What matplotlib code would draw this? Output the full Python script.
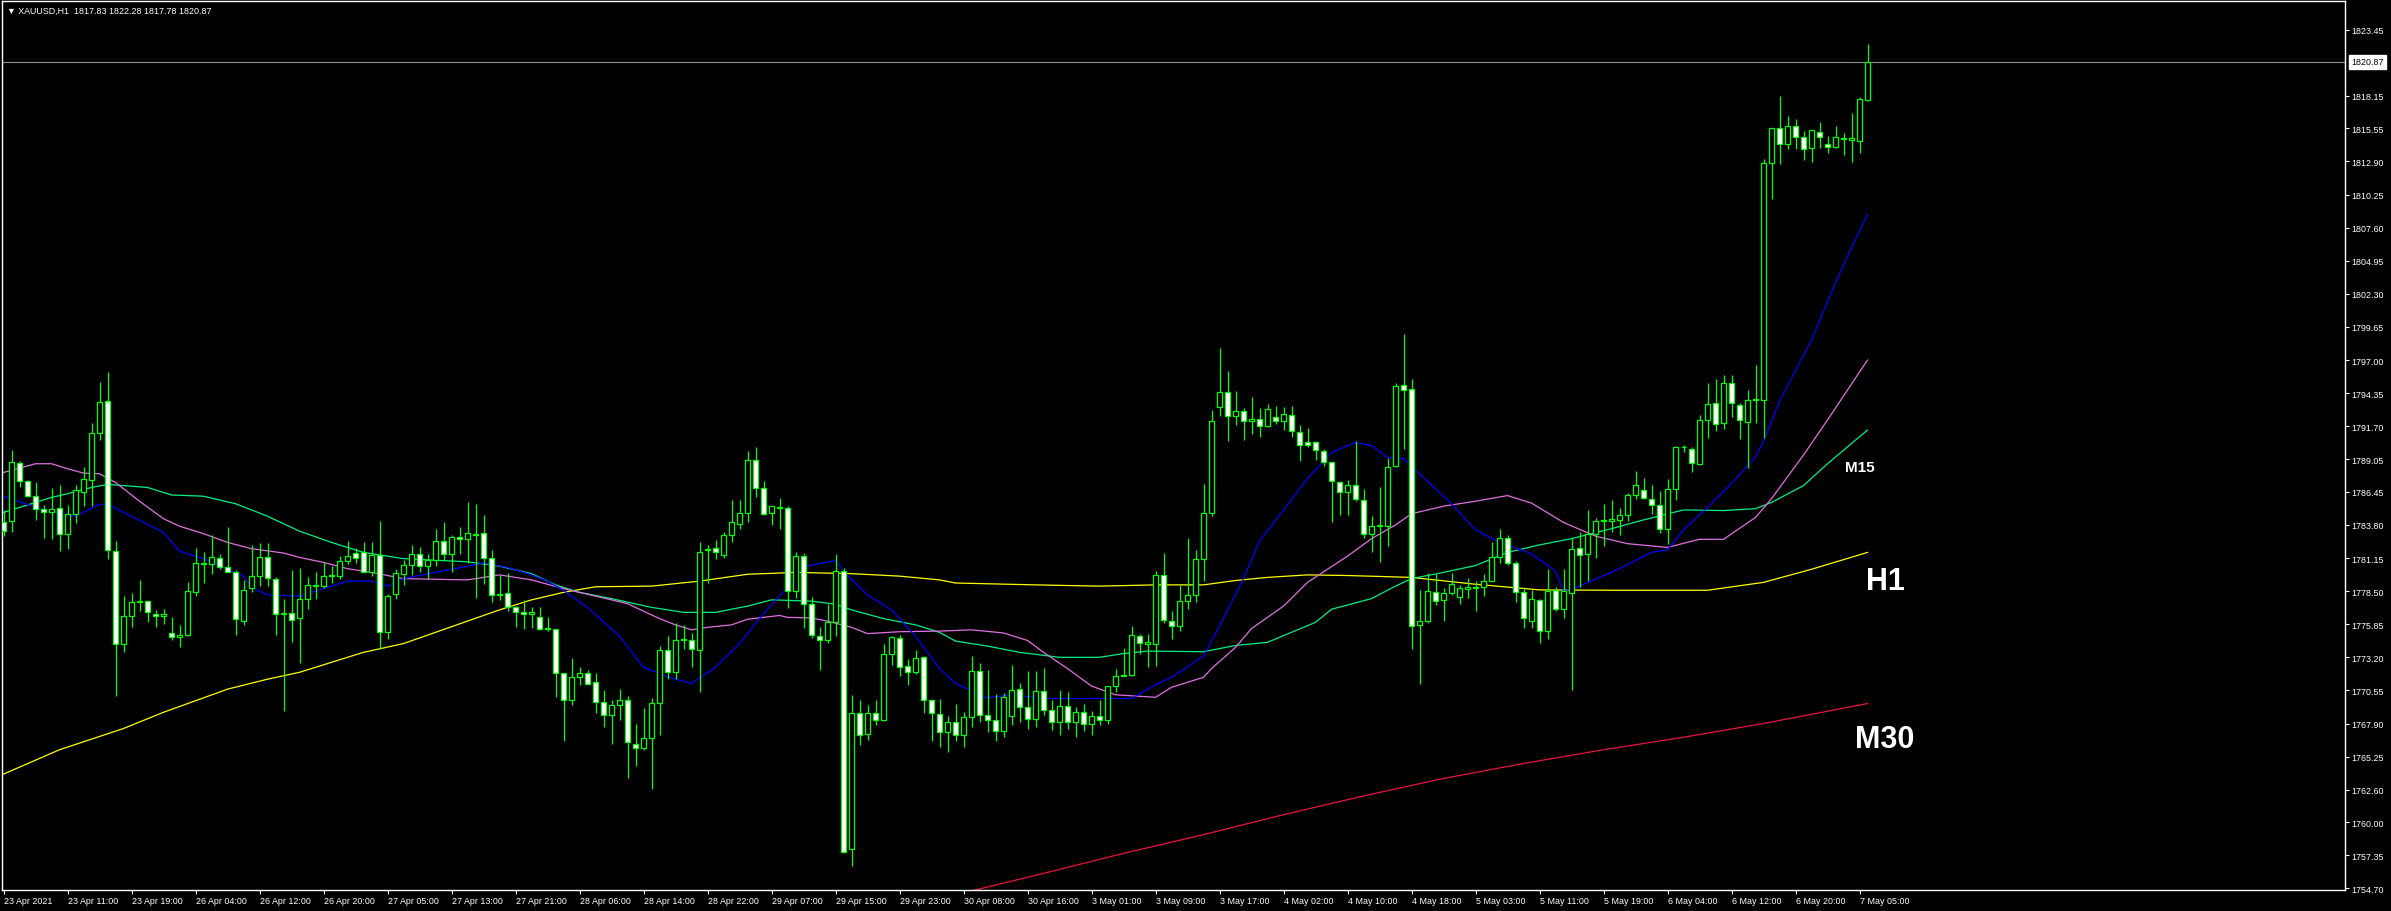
import matplotlib

matplotlib.use("Agg")
import matplotlib.pyplot as plt
import matplotlib.transforms as mtransforms
import numpy as np

plt.rcParams["font.family"] = ["Liberation Sans", "DejaVu Sans"]

# XAUUSD H1 bars, 23 Apr 2021 03:00 .. 7 May 2021 06:00
opens = [
    1784.06, 1784.08, 1788.73, 1787.29, 1786.14, 1785.07, 1784.86, 1785.13, 1783.04, 1784.67,
    1786.46, 1787.42, 1791.13, 1793.69, 1781.74, 1774.26, 1776.48, 1777.6, 1777.68, 1776.69,
    1776.48, 1775.12, 1774.80, 1774.98, 1778.40, 1780.65, 1780.65, 1781.12, 1780.40, 1780.0,
    1776.13, 1778.72, 1779.68, 1781.20, 1779.47, 1776.64, 1776.72, 1776.37, 1777.87, 1778.9,
    1778.94, 1779.7, 1779.73, 1780.88, 1781.55, 1781.60, 1780.05, 1781.39, 1775.2, 1778.27,
    1779.9, 1780.6, 1781.5, 1780.5, 1781.0, 1782.5, 1781.5, 1782.8, 1782.65, 1782.96,
    1783.14, 1781.18, 1778.15, 1778.39, 1777.23, 1776.8, 1776.65, 1776.46, 1775.5, 1775.48,
    1771.93, 1769.75, 1771.65, 1771.96, 1771.19, 1769.66, 1768.56, 1769.41, 1769.81, 1766.29,
    1765.92, 1766.75, 1769.57, 1773.80, 1772.05, 1774.56, 1774.62, 1773.80, 1781.8, 1781.98,
    1781.43, 1782.96, 1783.9, 1784.74, 1788.97, 1786.73, 1784.74, 1785.15, 1785.14, 1778.55,
    1781.31, 1777.44, 1774.87, 1774.56, 1776.03, 1780.08, 1757.86, 1768.74, 1767.05, 1768.74,
    1768.19, 1773.43, 1774.72, 1772.48, 1772.05, 1773.25, 1769.81, 1768.7, 1767.2, 1768.0,
    1767.0, 1768.4, 1772.08, 1768.6, 1768.2, 1767.3, 1768.5, 1770.67, 1769.2, 1768.3,
    1770.48, 1769.0, 1768.0, 1769.3, 1768.0, 1768.8, 1767.9, 1768.5, 1768.2, 1770.88,
    1771.73, 1771.81, 1774.88, 1774.3, 1774.27, 1779.79, 1776.14, 1775.74, 1777.74, 1778.19,
    1781.07, 1784.73, 1793.22, 1794.42, 1792.50, 1792.95, 1792.15, 1792.28, 1791.75, 1792.41,
    1792.15, 1792.63, 1791.27, 1790.42, 1790.42, 1789.75, 1788.81, 1787.27, 1786.41, 1787.0,
    1785.82, 1783.08, 1783.7, 1783.69, 1788.49, 1795.03, 1794.71, 1775.8, 1776.11, 1778.40,
    1777.80, 1778.33, 1778.05, 1778.7, 1778.75, 1778.85, 1779.31, 1781.25, 1782.73, 1780.79,
    1778.40, 1776.11, 1777.80, 1775.33, 1778.61, 1777.09, 1778.33, 1781.92, 1781.50, 1783.08,
    1784.1, 1784.15, 1784.21, 1784.60, 1786.19, 1786.61, 1785.90, 1785.38, 1783.51, 1786.71,
    1790.0, 1789.85, 1788.65, 1792.17, 1793.58, 1791.96, 1795.20, 1793.44, 1792.07, 1793.8,
    1793.79, 1812.75, 1815.57, 1814.27, 1815.78, 1814.87, 1813.99, 1815.29, 1814.34, 1814.09,
    1814.7, 1814.62, 1814.52, 1817.83,
]
highs = [
    1785.0, 1789.80, 1788.94, 1787.4, 1787.21, 1785.39, 1786.75, 1786.99, 1785.39, 1786.99,
    1788.41, 1791.93, 1795.27, 1796.01, 1782.54, 1778.08, 1778.35, 1779.36, 1777.75, 1776.98,
    1777.1, 1776.40, 1775.78, 1779.25, 1781.92, 1781.60, 1782.99, 1781.47, 1783.60, 1780.21,
    1779.39, 1782.19, 1782.35, 1782.35, 1779.6, 1777.87, 1780.19, 1780.35, 1779.60, 1780.05,
    1780.86, 1780.53, 1781.28, 1782.54, 1781.92, 1782.46, 1782.46, 1784.14, 1778.27, 1780.27,
    1781.0, 1782.2, 1782.0, 1781.5, 1783.5, 1784.0, 1783.0, 1783.6, 1785.66, 1785.47,
    1784.58, 1781.76, 1779.83, 1779.93, 1777.32, 1777.75, 1777.23, 1777.23, 1776.40, 1775.5,
    1771.95, 1773.18, 1772.42, 1772.2, 1771.93, 1770.58, 1769.81, 1770.64, 1770.09, 1767.88,
    1769.11, 1769.97, 1774.10, 1774.87, 1775.91, 1775.78, 1775.18, 1782.47, 1782.22, 1782.59,
    1783.27, 1785.78, 1785.78, 1789.70, 1790.04, 1787.28, 1785.35, 1785.99, 1785.35, 1781.67,
    1781.55, 1778.02, 1775.63, 1777.47, 1781.46, 1780.39, 1770.21, 1769.81, 1769.41, 1769.81,
    1774.26, 1774.87, 1775.02, 1773.03, 1773.77, 1773.28, 1769.9, 1769.9, 1768.5, 1769.5,
    1768.8, 1773.28, 1772.75, 1772.21, 1770.27, 1770.35, 1772.59, 1771.15, 1772.08, 1772.08,
    1772.32, 1769.8, 1770.61, 1770.4, 1769.2, 1769.5, 1768.9, 1769.8, 1770.93, 1772.27,
    1773.92, 1775.74, 1775.07, 1775.07, 1780.14, 1781.56, 1776.94, 1779.02, 1782.76, 1781.82,
    1787.08, 1793.00, 1797.94, 1796.10, 1794.53, 1793.14, 1794.02, 1793.14, 1793.48, 1793.30,
    1793.22, 1793.30, 1791.80, 1791.54, 1790.55, 1789.88, 1788.87, 1787.35, 1787.43, 1790.55,
    1786.68, 1784.54, 1786.81, 1789.13, 1795.14, 1799.09, 1795.49, 1778.57, 1779.98, 1779.91,
    1778.75, 1779.98, 1779.03, 1779.56, 1779.28, 1779.84, 1782.45, 1783.44, 1783.01, 1780.9,
    1778.85, 1778.57, 1777.87, 1780.26, 1778.85, 1780.26, 1782.73, 1783.26, 1785.02, 1784.32,
    1785.45, 1785.83, 1785.13, 1786.33, 1788.09, 1787.59, 1787.03, 1786.5, 1787.49, 1790.13,
    1790.2, 1790.06, 1792.60, 1795.13, 1795.49, 1795.84, 1795.84, 1793.58, 1794.64, 1796.58,
    1813.10, 1815.6, 1818.14, 1816.56, 1816.28, 1815.33, 1815.43, 1816.03, 1814.97, 1815.75,
    1815.22, 1816.80, 1818.04, 1822.28,
]
lows = [
    1782.94, 1783.26, 1786.81, 1786.0, 1784.22, 1782.78, 1782.67, 1781.74, 1781.87, 1783.95,
    1785.34, 1785.34, 1790.60, 1781.07, 1770.07, 1773.65, 1775.60, 1776.93, 1776.0, 1775.60,
    1775.87, 1774.61, 1774.0, 1774.93, 1778.13, 1779.15, 1779.87, 1780.27, 1780.0, 1774.98,
    1775.78, 1778.45, 1778.88, 1778.88, 1774.98, 1768.93, 1774.40, 1772.74, 1777.07, 1777.87,
    1778.72, 1779.15, 1779.47, 1780.67, 1780.75, 1780.0, 1779.68, 1773.86, 1774.66, 1777.87,
    1779.0, 1779.8, 1780.0, 1779.5, 1780.5, 1781.0, 1780.0, 1781.5, 1780.75, 1777.93,
    1779.10, 1777.63, 1777.78, 1776.92, 1775.64, 1775.48, 1775.54, 1775.42, 1775.33, 1770.03,
    1766.53, 1769.41, 1770.98, 1771.04, 1768.74, 1767.60, 1766.29, 1768.19, 1763.53, 1764.51,
    1765.74, 1762.67, 1766.96, 1771.44, 1771.5, 1773.89, 1772.42, 1770.43, 1779.16, 1781.06,
    1781.15, 1782.47, 1783.51, 1784.06, 1786.05, 1784.6, 1783.76, 1783.45, 1777.17, 1777.93,
    1775.57, 1774.72, 1772.20, 1774.32, 1774.93, 1757.56, 1756.5, 1766.14, 1766.6, 1767.82,
    1768.13, 1772.57, 1771.74, 1770.95, 1771.87, 1768.74, 1766.53, 1766.0, 1765.6, 1766.5,
    1766.0, 1767.6, 1768.0, 1767.2, 1766.5, 1766.8, 1767.8, 1768.0, 1767.5, 1767.6,
    1768.6, 1767.4, 1767.0, 1767.5, 1766.8, 1767.3, 1767.0, 1767.8, 1767.9, 1770.4,
    1771.7, 1771.73, 1773.47, 1772.40, 1772.53, 1775.95, 1774.67, 1775.34, 1777.07, 1777.60,
    1779.34, 1784.55, 1792.55, 1790.55, 1791.80, 1790.63, 1791.08, 1790.82, 1791.62, 1791.88,
    1791.43, 1790.82, 1788.95, 1790.0, 1789.03, 1788.55, 1784.01, 1784.62, 1784.62, 1785.75,
    1782.73, 1781.61, 1780.86, 1782.14, 1788.44, 1789.88, 1773.85, 1771.03, 1775.96, 1777.37,
    1776.11, 1778.15, 1777.45, 1777.98, 1776.92, 1778.08, 1779.28, 1780.79, 1780.62, 1777.62,
    1775.51, 1775.51, 1774.35, 1774.63, 1776.92, 1776.32, 1770.58, 1778.86, 1779.28, 1781.15,
    1782.10, 1783.26, 1783.01, 1784.14, 1785.9, 1785.9, 1784.67, 1783.15, 1782.31, 1785.83,
    1789.6, 1788.02, 1788.6, 1790.77, 1791.36, 1791.47, 1792.42, 1790.66, 1788.37, 1791.96,
    1790.77, 1809.86, 1812.68, 1813.9, 1813.9, 1813.03, 1812.86, 1814.02, 1813.56, 1814.02,
    1813.39, 1812.86, 1813.56, 1817.78,
]
closes = [
    1783.28, 1788.81, 1787.29, 1786.09, 1785.07, 1784.81, 1785.07, 1783.04, 1784.67, 1786.59,
    1787.47, 1791.16, 1793.61, 1781.79, 1774.26, 1776.48, 1777.6, 1777.7, 1776.8, 1776.48,
    1776.64, 1774.80, 1774.98, 1778.48, 1780.72, 1780.75, 1781.20, 1780.40, 1780.05, 1776.27,
    1778.61, 1779.68, 1781.20, 1779.52, 1776.64, 1776.72, 1776.16, 1777.87, 1778.99, 1779.0,
    1779.68, 1779.8, 1780.93, 1781.28, 1781.12, 1780.05, 1781.39, 1775.2, 1778.13, 1779.95,
    1780.6, 1781.5, 1780.5, 1781.0, 1782.5, 1781.5, 1782.8, 1782.65, 1783.14, 1783.1,
    1781.12, 1778.15, 1778.3, 1777.23, 1776.80, 1776.65, 1776.86, 1775.48, 1775.55, 1771.93,
    1769.81, 1771.65, 1771.96, 1771.10, 1769.60, 1768.56, 1769.41, 1769.81, 1766.38, 1765.92,
    1766.75, 1769.57, 1773.77, 1772.05, 1774.56, 1774.7, 1773.86, 1781.67, 1781.9, 1781.61,
    1782.99, 1784.06, 1784.74, 1789.03, 1786.73, 1784.68, 1785.29, 1785.2, 1778.55, 1781.31,
    1777.44, 1774.99, 1774.56, 1776.03, 1780.08, 1757.65, 1768.74, 1766.96, 1768.74, 1768.22,
    1773.43, 1774.81, 1772.42, 1772.05, 1773.18, 1769.81, 1768.74, 1767.2, 1768.0, 1767.0,
    1768.4, 1772.08, 1768.6, 1768.2, 1767.3, 1770.0, 1770.59, 1769.2, 1768.3, 1770.48,
    1769.0, 1768.0, 1769.3, 1768.0, 1768.8, 1767.9, 1768.5, 1768.2, 1770.88, 1771.73,
    1771.8, 1774.99, 1774.35, 1774.4, 1779.79, 1776.19, 1775.74, 1777.74, 1778.19, 1781.07,
    1784.73, 1792.10, 1794.42, 1792.55, 1792.90, 1792.10, 1792.28, 1791.75, 1793.08, 1792.12,
    1792.66, 1791.30, 1790.20, 1790.20, 1789.83, 1788.87, 1787.29, 1786.41, 1787.0, 1785.88,
    1783.08, 1783.74, 1783.78, 1788.41, 1794.95, 1794.63, 1775.69, 1776.1, 1778.50, 1777.69,
    1778.33, 1779.10, 1778.75, 1778.8, 1778.8, 1779.31, 1781.25, 1782.73, 1780.79, 1778.43,
    1776.32, 1777.87, 1775.33, 1778.50, 1777.09, 1778.50, 1781.85, 1781.39, 1783.08, 1784.14,
    1784.2, 1784.25, 1784.60, 1786.19, 1786.96, 1785.97, 1785.38, 1783.51, 1786.71, 1790.03,
    1790.06, 1788.72, 1792.17, 1793.48, 1791.89, 1795.20, 1793.58, 1792.17, 1793.79, 1793.85,
    1812.75, 1815.57, 1814.27, 1815.78, 1814.87, 1813.92, 1815.40, 1814.87, 1814.09, 1814.87,
    1814.75, 1814.80, 1817.90, 1820.87,
]

# moving averages, (bar index, price) samples
ma_blue = [
    (0, 1786.1), (5, 1785.0), (9, 1784.5), (12, 1785.45), (13, 1785.45), (16, 1784.5),
    (20, 1783.2), (22, 1781.7), (25, 1781.1), (28, 1780.3), (30, 1779.7), (31, 1778.8),
    (33, 1778.2), (37, 1778.1), (40, 1778.7), (43, 1779.3), (46, 1779.3), (48, 1778.9),
    (50, 1779.5), (58, 1780.5), (60, 1780.75), (63, 1780.4), (66, 1779.8), (68, 1779.3),
    (70, 1778.55), (73, 1777.2), (77, 1774.9), (80, 1772.4), (83, 1771.65), (86, 1771.1),
    (89, 1772.4), (92, 1774.3), (95, 1776.7), (98, 1778.8), (100, 1780.45), (104, 1780.95),
    (105, 1780.1), (108, 1778.2), (111, 1777.0), (114, 1774.9), (117, 1772.3), (119, 1771.1),
    (123, 1769.95), (126, 1770.2), (130, 1769.9), (141, 1769.9), (144, 1771.0), (146, 1771.6),
    (150, 1773.3), (152, 1775.7), (155, 1779.5), (157, 1782.5), (160, 1785.0), (163, 1787.5),
    (166, 1789.6), (169, 1790.4), (171, 1790.15), (173, 1789.2), (175, 1789.1), (178, 1787.3),
    (181, 1785.5), (184, 1783.4), (187, 1782.4), (191, 1781.5), (194, 1780.1), (195, 1778.5),
    (197, 1778.9), (202, 1780.3), (206, 1781.6), (208, 1781.8), (210, 1783.4), (213, 1785.2),
    (216, 1787.1), (219, 1789.25), (220, 1790.5), (222, 1793.7), (226, 1798.6), (229, 1803.2),
    (231, 1806.0), (233, 1808.65),
]
ma_violet = [
    (0, 1788.0), (4, 1788.7), (6, 1788.7), (8, 1788.3), (10, 1787.95), (12, 1787.9),
    (14, 1787.2), (17, 1785.7), (20, 1784.3), (22, 1783.7), (25, 1783.1), (28, 1782.4),
    (31, 1781.9), (35, 1781.55), (37, 1781.2), (40, 1780.8), (43, 1780.3), (46, 1780.0),
    (50, 1779.5), (58, 1779.4), (62, 1779.8), (66, 1779.4), (70, 1778.7), (74, 1778.1),
    (78, 1777.5), (82, 1776.3), (84, 1775.8), (86, 1775.4), (88, 1775.6), (91, 1775.8),
    (93, 1776.25), (97, 1776.55), (98, 1776.4), (101, 1776.35), (103, 1776.1), (106, 1775.6),
    (108, 1775.1), (112, 1775.25), (117, 1775.3), (121, 1775.4), (125, 1775.15), (128, 1774.55),
    (130, 1773.6), (133, 1772.3), (136, 1770.9), (139, 1770.2), (144, 1770.0), (146, 1770.8),
    (150, 1771.6), (151, 1772.3), (154, 1774.0), (156, 1775.5), (160, 1777.3), (163, 1779.2),
    (168, 1781.3), (171, 1782.7), (174, 1783.8), (176, 1784.7), (180, 1785.3), (184, 1785.7),
    (188, 1786.15), (191, 1785.55), (195, 1784.0), (199, 1782.9), (203, 1782.3), (208, 1782.0),
    (212, 1782.65), (215, 1782.65), (219, 1784.4), (221, 1785.9), (225, 1789.4), (228, 1792.2),
    (233, 1797.0),
]
ma_green = [
    (0, 1784.8), (2, 1785.2), (4, 1785.6), (6, 1786.0), (8, 1786.3), (11, 1786.8),
    (13, 1787.05), (15, 1786.95), (18, 1786.8), (21, 1786.2), (25, 1786.1), (29, 1785.5),
    (33, 1784.5), (37, 1783.3), (41, 1782.4), (45, 1781.6), (50, 1781.1), (58, 1780.85),
    (62, 1780.5), (66, 1779.9), (69, 1779.0), (72, 1778.4), (76, 1777.9), (81, 1777.2),
    (85, 1776.8), (89, 1776.8), (93, 1777.3), (96, 1777.8), (101, 1777.7), (104, 1777.45),
    (106, 1777.0), (110, 1776.3), (114, 1775.8), (117, 1775.2), (119, 1774.5), (123, 1774.1),
    (127, 1773.6), (132, 1773.2), (137, 1773.2), (140, 1773.5), (143, 1773.7), (150, 1773.65),
    (154, 1774.15), (158, 1774.4), (161, 1775.2), (164, 1776.0), (166, 1777.05), (171, 1777.9),
    (174, 1778.9), (176, 1779.5), (180, 1780.0), (184, 1780.55), (188, 1781.6), (192, 1782.2),
    (196, 1782.7), (201, 1783.5), (205, 1784.2), (210, 1785.0), (215, 1784.95), (219, 1785.1),
    (221, 1785.6), (225, 1786.95), (228, 1788.7), (233, 1791.4),
]
ma_yellow = [
    (0, 1763.85), (7, 1765.8), (15, 1767.5), (20, 1768.8), (28, 1770.65), (33, 1771.45),
    (37, 1772.0), (41, 1772.8), (45, 1773.6), (50, 1774.3), (58, 1776.1), (62, 1777.0),
    (66, 1777.8), (70, 1778.4), (74, 1778.85), (81, 1778.9), (87, 1779.3), (93, 1779.85),
    (99, 1780.0), (106, 1779.9), (112, 1779.7), (117, 1779.4), (119, 1779.15), (129, 1779.0),
    (137, 1778.9), (144, 1779.0), (150, 1779.0), (154, 1779.35), (158, 1779.6), (163, 1779.8),
    (168, 1779.75), (176, 1779.6), (184, 1779.05), (192, 1778.6), (201, 1778.57), (213, 1778.57),
    (220, 1779.2), (226, 1780.25), (233, 1781.6),
]
ma_red = [
    (121, 1754.5), (130, 1755.9), (140, 1757.5), (150, 1759.0), (160, 1760.6), (170, 1762.1),
    (180, 1763.5), (190, 1764.7), (200, 1765.8), (210, 1766.8), (220, 1767.9), (233, 1769.5),
]

price_ticks = [
    1823.45, 1818.15, 1815.55, 1812.90, 1810.25, 1807.60, 1804.95, 1802.30, 1799.65,
    1797.00, 1794.35, 1791.70, 1789.05, 1786.45, 1783.80, 1781.15, 1778.50, 1775.85,
    1773.20, 1770.55, 1767.90, 1765.25, 1762.60, 1760.00, 1757.35, 1754.70,
]
time_labels = [
    "23 Apr 2021", "23 Apr 11:00", "23 Apr 19:00", "26 Apr 04:00", "26 Apr 12:00",
    "26 Apr 20:00", "27 Apr 05:00", "27 Apr 13:00", "27 Apr 21:00", "28 Apr 06:00",
    "28 Apr 14:00", "28 Apr 22:00", "29 Apr 07:00", "29 Apr 15:00", "29 Apr 23:00",
    "30 Apr 08:00", "30 Apr 16:00", "3 May 01:00", "3 May 09:00", "3 May 17:00",
    "4 May 02:00", "4 May 10:00", "4 May 18:00", "5 May 03:00", "5 May 11:00",
    "5 May 19:00", "6 May 04:00", "6 May 12:00", "6 May 20:00", "7 May 05:00",
]
last_price = 1820.87
header = "XAUUSD,H1  1817.83 1822.28 1817.78 1820.87"

LIME = "#00ff00"
W, H = 2391, 912

fig = plt.figure(figsize=(W / 100, H / 100), dpi=100, facecolor="black")
ax = fig.add_axes([2 / W, (H - 891) / H, 2343 / W, 889 / H])
ax.set_facecolor("black")

o, hi, lo, c = (np.asarray(v) for v in (opens, highs, lows, closes))
x = np.arange(len(o))
up = c >= o
ax.vlines(x, lo, hi, color=LIME, lw=0.9, zorder=3)
base = np.minimum(o, c)
height = np.abs(c - o)
ax.bar(x[up], height[up], bottom=base[up], width=0.58, color="black",
       edgecolor=LIME, linewidth=0.9, zorder=4)
ax.bar(x[~up], height[~up], bottom=base[~up], width=0.58, color="white",
       edgecolor=LIME, linewidth=0.9, zorder=4)

for pts, col in ((ma_red, "#e8143c"), (ma_yellow, "#ffff00"), (ma_green, "#00f080"),
                 (ma_violet, "#e070e0"), (ma_blue, "#0000ff")):
    bx, by = zip(*pts)
    ax.plot(bx, by, color=col, lw=0.9, zorder=2)

ax.axhline(last_price, color="#8c8c8c", lw=0.8, zorder=1)

ax.set_xlim(-0.1875, 292.6875)
ax.set_ylim(1754.57, 1825.75)

for s in ax.spines.values():
    s.set_color("white")
    s.set_linewidth(1.0)

ax.yaxis.tick_right()
ax.set_yticks(price_ticks)
ax.set_yticklabels([f"{p:.2f}" for p in price_ticks])
ax.set_xticks(np.arange(0, 8 * len(time_labels), 8))
ax.set_xticklabels(time_labels)
for t in ax.get_xticklabels():
    t.set_horizontalalignment("left")
ax.tick_params(axis="both", colors="white", labelcolor="white", labelsize=6.4,
               length=2.6, width=0.8, pad=2.0)

trans = mtransforms.blended_transform_factory(ax.transAxes, ax.transData)
ax.text(1.0028, last_price, f"{last_price:.2f}", transform=trans, ha="left", va="center",
        fontsize=6.4, color="black",
        bbox=dict(boxstyle="square,pad=0.25", facecolor="white", edgecolor="white"))

fig.text(7 / W, 1 - 11 / H, "\u25bc " + header, color="white", fontsize=6.4, va="center",
         ha="left", family=["Liberation Sans", "DejaVu Sans"])

big = dict(color="white", fontweight="bold", ha="center", va="center",
           family=["Liberation Sans", "DejaVu Sans"])
ax.text(232.0, 1788.47, "M15", fontsize=11, **big)
ax.text(235.2, 1779.31, "H1", fontsize=22, **big)
ax.text(235.1, 1766.65, "M30", fontsize=22, **big)

fig.savefig("out.png", dpi=100, facecolor="black")
